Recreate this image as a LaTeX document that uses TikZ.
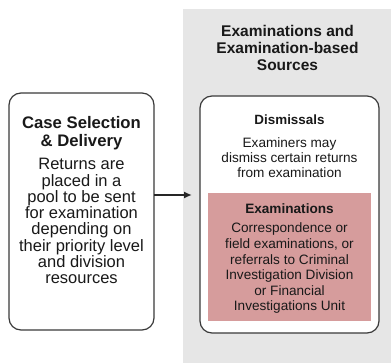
\documentclass[tikz,border=0pt]{standalone}
\usepackage{fontspec}
\setmainfont{Liberation Sans}
\usetikzlibrary{arrows.meta}
\definecolor{panelgray}{HTML}{E6E6E6}
\definecolor{pinkbox}{HTML}{D69C9C}
\definecolor{edgegray}{HTML}{3A3A3A}
\tikzset{
  x=1pt,y=1pt,
  roundbox/.style={draw=edgegray,line width=1.2pt,rounded corners=12pt,fill=white},
  txt/.style={align=center,inner sep=0pt,text=black!90},
  conn/.style={-{Latex[length=8pt,width=7pt]},line width=1.6pt,draw=black!85}
}
\begin{document}
\begin{tikzpicture}
\useasboundingbox (0,0) rectangle (391,-363);
\fill[panelgray] (183,-9) rectangle (391,-363);
\node[txt,font=\fontsize{15.5}{17}\selectfont\bfseries] (title) at (287.5,-48.2) {Examinations and\\Examination-based\\Sources};
\draw[roundbox] (9,-93) rectangle (154,-330);
\coordinate (lbE) at (154,-195);
\node[txt,font=\fontsize{16.7}{18}\selectfont\bfseries] (lt) at (81.5,-132.7) {Case Selection\\\& Delivery};
\node[txt,font=\fontsize{16.5}{16.3}\selectfont] (lb) at (81.5,-221.2) {Returns are\\placed in a\\pool to be sent\\for examination\\depending on\\their priority level\\and division\\resources};
\draw[roundbox] (200,-96) rectangle (379,-333);
\coordinate (rbW) at (192,-195);
\node[txt,font=\fontsize{13.4}{15}\selectfont\bfseries] (dt) at (289.5,-120.2) {Dismissals};
\node[txt,font=\fontsize{13.6}{15}\selectfont] (db) at (289.5,-157.2) {Examiners may\\dismiss certain returns\\from examination};
\fill[pinkbox] (208,-193) rectangle (371,-321);
\node[txt,font=\fontsize{13.6}{15}\selectfont\bfseries] (et) at (289.5,-208.5) {Examinations};
\node[txt,font=\fontsize{13.6}{15.6}\selectfont] (eb) at (289.5,-268.3) {Correspondence or\\field examinations, or\\referrals to Criminal\\Investigation Division\\or Financial\\Investigations Unit};
\draw[conn] (lbE) -- (rbW);
\end{tikzpicture}
\end{document}
